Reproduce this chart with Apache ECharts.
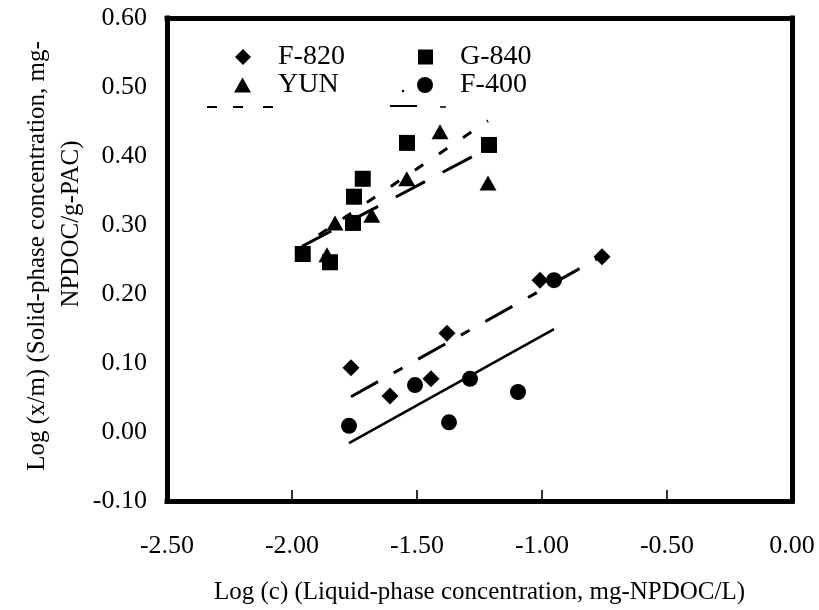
<!DOCTYPE html>
<html>
<head>
<meta charset="utf-8">
<script src="https://cdn.jsdelivr.net/npm/echarts@6/dist/echarts.min.js"></script>
<style>html,body{margin:0;padding:0;background:#fff;}#c{width:819px;height:610px;}</style>
</head>
<body>
<div id="c"></div>
<script>
// ---- data ----
const xTicks = [-2.5, -2.0, -1.5, -1.0, -0.5, 0.0];
const yTicks = [-0.1, 0.0, 0.1, 0.2, 0.3, 0.4, 0.5, 0.6];

const f820X = [-1.764, -1.608, -1.444, -1.380, -1.008, -0.760];
const f820Y = [0.093, 0.052, 0.077, 0.143, 0.220, 0.254];

const g840X = [-1.957, -1.848, -1.756, -1.752, -1.717, -1.540, -1.212];
const g840Y = [0.258, 0.246, 0.303, 0.341, 0.367, 0.419, 0.416];

const yunX = [-1.860, -1.828, -1.681, -1.541, -1.408, -1.216];
const yunY = [0.257, 0.303, 0.314, 0.367, 0.435, 0.361];

const f400X = [-1.772, -1.508, -1.372, -1.288, -1.096, -0.952];
const f400Y = [0.009, 0.068, 0.014, 0.077, 0.058, 0.220];

// linear trend lines (end points)
const f820TrendX = [-1.764, -0.760];
const f820TrendY = [0.051, 0.255];
const g840TrendX = [-1.956, -1.216];
const g840TrendY = [0.270, 0.451];
const yunTrendX = [-1.960, -1.216];
const yunTrendY = [0.269, 0.411];
const f400TrendX = [-1.772, -0.952];
const f400TrendY = [-0.016, 0.149];

const yTitle1 = 'Log (x/m) (Solid-phase concentration, mg-';
const yTitle2 = 'NPDOC/g-PAC)';
const xTitle = 'Log (c) (Liquid-phase concentration, mg-NPDOC/L)';

// ---- build ----
const zip = (xs, ys) => xs.map((x, i) => [x, ys[i]]);
const FONT = 'Liberation Serif, Times New Roman, serif';
const chart = echarts.init(document.getElementById('c'), null, {renderer: 'canvas'});

function trend(name, xs, ys, type, width, offset) {
  return {
    name: name, type: 'line', data: zip(xs, ys), symbol: 'none', silent: true, z: 1,
    lineStyle: {color: '#000', width: width, type: type, dashOffset: offset || 0, cap: 'butt'},
    animation: false
  };
}
function pts(name, xs, ys, symbol, size) {
  return {
    name: name, type: 'scatter', data: zip(xs, ys), symbol: symbol, symbolSize: size, z: 3,
    itemStyle: {color: '#000', opacity: 1}, animation: false
  };
}
function leg(name, left, top, w, h) {
  return {
    data: [name], left: left, top: top, padding: 0, itemWidth: w, itemHeight: h,
    textStyle: {color: '#000', fontFamily: FONT, fontSize: 28, padding: [0, 0, 0, 22]},
    selectedMode: false
  };
}
const frameLine = {show: true, onZero: false, lineStyle: {color: '#000', width: 5, cap: 'square'}};
const yMin = yTicks[0];
const tickLen = 0.016; // in y units (about 11 px)
// inner tick marks on the bottom axis, drawn as short line series at the tick values
const tickSeries = xTicks.slice(1, -1).map(v => ({
  name: 'tick ' + v, type: 'line', data: [[v, yMin], [v, yMin + tickLen]], symbol: 'none',
  silent: true, z: 6, clip: false, animation: false,
  lineStyle: {color: '#000', width: 1.6, type: 'solid', cap: 'butt'}
}));

const option = {
  backgroundColor: '#fff',
  animation: false,
  grid: {left: 167, right: 27, top: 18, bottom: 109, show: false},
  xAxis: [{
    type: 'value', position: 'bottom', min: xTicks[0], max: xTicks[xTicks.length - 1], interval: 0.5,
    axisLine: frameLine,
    axisTick: {show: false},
    splitLine: {show: false},
    axisLabel: {color: '#000', fontFamily: FONT, fontSize: 26, margin: 32,
      formatter: v => v.toFixed(2)},
    name: xTitle, nameLocation: 'middle', nameGap: 79,
    nameTextStyle: {color: '#000', fontFamily: FONT, fontSize: 25}
  }, {
    type: 'value', position: 'top', min: xTicks[0], max: xTicks[xTicks.length - 1], interval: 0.5,
    axisLine: frameLine, axisTick: {show: false}, axisLabel: {show: false}, splitLine: {show: false}
  }],
  yAxis: [{
    type: 'value', position: 'left', min: yMin, max: yTicks[yTicks.length - 1], interval: 0.1,
    axisLine: frameLine,
    axisTick: {show: false},
    splitLine: {show: false},
    axisLabel: {color: '#000', fontFamily: FONT, fontSize: 26, margin: 20,
      formatter: v => v.toFixed(2)}
  }, {
    type: 'value', position: 'right', min: yMin, max: yTicks[yTicks.length - 1], interval: 0.1,
    axisLine: frameLine, axisTick: {show: false}, axisLabel: {show: false}, splitLine: {show: false}
  }],
  legend: [
    leg('F-820', 235, 43, 16, 16),
    leg('G-840', 418, 43, 15, 15),
    leg('YUN', 234, 71, 17, 15),
    leg('F-400', 417, 71, 16, 16)
  ],
  graphic: [
    {type: 'text', x: 37, y: 256, rotation: Math.PI / 2,
      style: {text: yTitle1, fontFamily: FONT, fontSize: 25, fill: '#000', align: 'center', verticalAlign: 'middle'}},
    {type: 'text', x: 71, y: 224, rotation: Math.PI / 2,
      style: {text: yTitle2, fontFamily: FONT, fontSize: 25, fill: '#000', align: 'center', verticalAlign: 'middle'}},
    // clipped trend-line legend remnants
    {type: 'line', shape: {x1: 207, y1: 107, x2: 217, y2: 107}, style: {stroke: '#000', lineWidth: 2}},
    {type: 'line', shape: {x1: 233, y1: 107, x2: 243, y2: 107}, style: {stroke: '#000', lineWidth: 2}},
    {type: 'line', shape: {x1: 263, y1: 107, x2: 273, y2: 107}, style: {stroke: '#000', lineWidth: 2}},
    {type: 'line', shape: {x1: 390, y1: 106, x2: 417, y2: 106}, style: {stroke: '#000', lineWidth: 2}},
    {type: 'line', shape: {x1: 440, y1: 107, x2: 446, y2: 107}, style: {stroke: '#000', lineWidth: 1.5}},
    {type: 'circle', shape: {cx: 403, cy: 91, r: 1.2}, style: {fill: '#000'}}
  ],
  series: tickSeries.concat([
    trend('Linear (F-820)', f820TrendX, f820TrendY, [31, 18, 10, 18], 3, 0),
    trend('Linear (G-840)', g840TrendX, g840TrendY, [10, 19], 3, 10),
    trend('Linear (YUN)', yunTrendX, yunTrendY, [33, 20], 3, 0),
    trend('Linear (F-400)', f400TrendX, f400TrendY, 'solid', 2.5, 0),
    pts('F-820', f820X, f820Y, 'diamond', 17),
    pts('G-840', g840X, g840Y, 'rect', 16),
    pts('YUN', yunX, yunY, 'triangle', [17, 15]),
    pts('F-400', f400X, f400Y, 'circle', 16)
  ])
};
chart.setOption(option);
</script>
</body>
</html>
